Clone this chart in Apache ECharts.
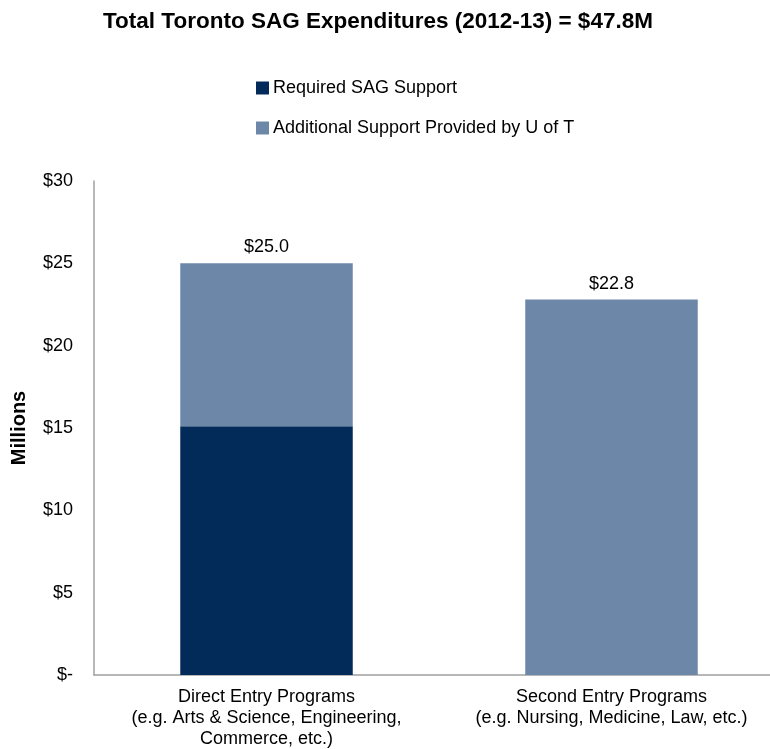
<!DOCTYPE html>
<html>
<head>
<meta charset="utf-8">
<script src="https://cdn.jsdelivr.net/npm/echarts@6/dist/echarts.min.js"></script>
<style>
  html, body { margin: 0; padding: 0; background: #fff; }
  #chart { width: 770px; height: 749px; }
</style>
</head>
<body>
<div id="chart"></div>
<script>
// 类目与数据（单位：百万加元）
const categories = [
  'Direct Entry Programs\n(e.g. Arts & Science, Engineering,\nCommerce, etc.)',
  'Second Entry Programs\n(e.g. Nursing, Medicine, Law, etc.)'
]
const requiredSupport = [15.1, 0]
const additionalSupport = [9.9, 22.8]
const seriesNames = ['Required SAG Support', 'Additional Support Provided by U of T']

const font = 'Liberation Sans, Arial, sans-serif'
const chart = echarts.init(document.getElementById('chart'))

chart.setOption({
  animation: false,
  textStyle: { fontFamily: font },
  title: {
    text: 'Total Toronto SAG Expenditures (2012-13) = $47.8M',
    left: 103,
    top: 10,
    padding: 0,
    textStyle: { fontFamily: font, fontSize: 22.5, fontWeight: 'bold', color: '#000' }
  },
  legend: {
    orient: 'vertical',
    left: 256,
    top: 79,
    padding: 0,
    itemWidth: 13,
    itemHeight: 13,
    itemGap: 22,
    icon: 'rect',
    textStyle: { fontFamily: font, fontSize: 18, color: '#000', padding: [0, 0, 0, -1] },
    data: seriesNames
  },
  grid: {
    left: 94,
    right: -14,
    top: 181,
    bottom: 74,
    outerBoundsMode: 'none'
  },
  xAxis: {
    type: 'category',
    data: categories,
    axisLine: { lineStyle: { color: '#a0a0a0', width: 1.5 } },
    axisTick: { show: false },
    axisLabel: {
      margin: 12,
      fontSize: 18,
      lineHeight: 21,
      color: '#000',
      fontFamily: font,
      interval: 0
    }
  },
  yAxis: {
    type: 'value',
    min: 0,
    max: 30,
    interval: 5,
    name: 'Millions',
    nameLocation: 'middle',
    nameRotate: 90,
    nameGap: 65,
    nameTextStyle: { fontFamily: font, fontSize: 20, fontWeight: 'bold', color: '#000' },
    axisLine: { show: true, lineStyle: { color: '#a0a0a0', width: 1.5 } },
    axisTick: { show: false },
    splitLine: { show: false },
    axisLabel: {
      margin: 21,
      fontSize: 18,
      color: '#000',
      fontFamily: font,
      formatter: (v) => (v === 0 ? '$-' : '$' + v)
    }
  },
  series: [
    {
      name: seriesNames[0],
      type: 'bar',
      stack: 'total',
      barWidth: '50%',
      itemStyle: { color: '#022b5a' },
      data: requiredSupport
    },
    {
      name: seriesNames[1],
      type: 'bar',
      stack: 'total',
      barWidth: '50%',
      itemStyle: { color: '#6d87a8' },
      label: {
        show: true,
        position: 'top',
        distance: 7,
        fontSize: 18,
        color: '#000',
        fontFamily: font,
        formatter: (p) => '$' + (requiredSupport[p.dataIndex] + additionalSupport[p.dataIndex]).toFixed(1)
      },
      data: additionalSupport
    }
  ]
})
</script>
</body>
</html>
